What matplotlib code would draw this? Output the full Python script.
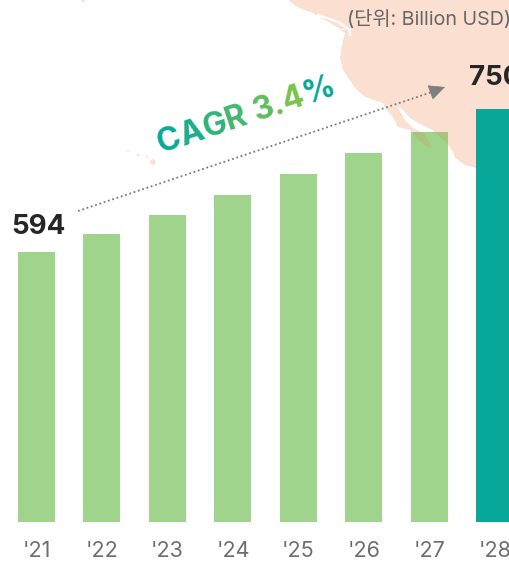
import numpy as np
import matplotlib
matplotlib.use('Agg')
import matplotlib.pyplot as plt
from matplotlib.colors import LinearSegmentedColormap
from matplotlib.patches import Polygon

plt.rcParams['font.family'] = ['Inter', 'Noto Sans CJK KR', 'DejaVu Sans']

years = ["'21", "'22", "'23", "'24", "'25", "'26", "'27", "'28"]
values = [594, 614, 635, 656, 679, 702, 725, 750]
first_label = '594'
last_label = '750'
unit_label = '(단위: Billion USD)'
cagr_label = 'CAGR 3.4%'

# backdrop map outline, image pixels
map_main = [(288, 0), (297, 7), (313, 13), (318, 16), (337, 27), (345, 33), (343, 40), (340, 58), (343, 70),
            (355, 88), (365, 97), (383, 103), (401, 108), (410, 118), (418, 123), (432, 130),
            (447, 143), (453, 152), (455, 158), (465, 165), (476, 168), (510, 180), (510, 0)]
map_baja = [(383, 103), (398, 108), (405, 120), (413, 128), (425, 134), (431, 146), (429, 148),
            (418, 140), (410, 130), (398, 127), (392, 116), (385, 108)]
map_channel = [(318, 15), (338, 22), (350, 30), (350, 35)]
map_channel2 = [(338, 29), (350, 29)]
map_dots = [(83, 1, 1.6), (128, 151, 1.0), (138, 155, 1.2), (147, 157, 1.0), (153, 162, 2.8)]

fig = plt.figure(figsize=(5.10, 5.64), dpi=100)

# backdrop
bg = fig.add_axes([0, 0, 1, 1])
bg.set_xlim(0, 510)
bg.set_ylim(564, 0)
bg.axis('off')
map_color = '#fbe0d2'
bg.add_patch(Polygon(map_main, closed=True, fc=map_color, ec='none'))
bg.add_patch(Polygon(map_baja, closed=True, fc=map_color, ec='none'))
bg.plot(*zip(*map_channel), color='white', lw=1.6)
bg.plot(*zip(*map_channel2), color='white', lw=0.7)
for dot_x, dot_y, dot_r in map_dots:
    bg.add_patch(plt.Circle((dot_x, dot_y), dot_r, fc=map_color, ec='none'))

# bars, axis starts at 300 (cut off like the original)
ax = fig.add_axes([0, (564 - 522) / 564, 1, 522 / 564])
ax.patch.set_alpha(0)
x = np.arange(len(years))
colors = ['#a0d48c'] * 7 + ['#08a898']
bars = ax.bar(x, values, width=0.565, color=colors, linewidth=0)
ax.set_xlim(-0.557, 7.229)
ax.set_ylim(300, 300 + 522 * 1.09)
for s in ax.spines.values():
    s.set_visible(False)
ax.set_yticks([])
ax.set_xticks(x)
ax.set_xticklabels(years, fontsize=15.5, color='#6e6e6e')
ax.tick_params(axis='x', length=0, pad=14)

# map showing through the '27 bar
top = fig.add_axes([0, 0, 1, 1])
top.set_xlim(0, 510)
top.set_ylim(564, 0)
top.axis('off')
for outline in (map_main, map_baja):
    shade = Polygon(outline, closed=True, fc='#aac47c', ec='none')
    top.add_patch(shade)
    shade.set_clip_path(bars[6].get_path(), bars[6].get_transform())

# value labels
ax.annotate(first_label, (x[0], values[0]), xytext=(1.5, 9), textcoords='offset points',
            ha='center', va='bottom', fontsize=20, fontweight='bold', color='#262626')
ax.annotate(last_label, (x[-1], values[-1]), xytext=(0, 13), textcoords='offset points',
            ha='center', va='bottom', fontsize=20, fontweight='bold', color='#262626')

top.text(511, 19, unit_label, ha='right', va='center', fontsize=14.2, color='#666666')

# CAGR arrow: dotted shaft and solid head
top.plot([78, 432], [211, 92], color='#7a7a7a', lw=1.3, linestyle=(0, (1, 1.5)))
top.annotate('', xy=(445, 87), xytext=(430, 92.5),
             arrowprops=dict(arrowstyle='-|>,head_length=1.05,head_width=0.5', color='#7f7f7f',
                             lw=0.5, shrinkA=0, shrinkB=0))

# CAGR text, one colour per letter along the slope
cmap = LinearSegmentedColormap.from_list('cagr', ['#08a898', '#8cc63f'])
angle = 18.5
size = 23
start = np.array([161.0, 153.0])
direction = np.array([np.cos(np.radians(angle)), -np.sin(np.radians(angle))])
renderer = fig.canvas.get_renderer()
pos = 0.0
total = 152.0
for i, ch in enumerate(cagr_label):
    prefix = cagr_label[:i + 1]
    probe = fig.text(0, 0, prefix, fontsize=size, fontweight='bold')
    end = probe.get_window_extent(renderer).width
    probe.remove()
    px, py = start + direction * pos
    top.text(px, py, ch, fontsize=size, fontweight='bold', color=cmap(min(pos / total, 1)),
             rotation=angle, rotation_mode='anchor', ha='left', va='baseline')
    pos = end

fig.savefig('out.png', dpi=100)
